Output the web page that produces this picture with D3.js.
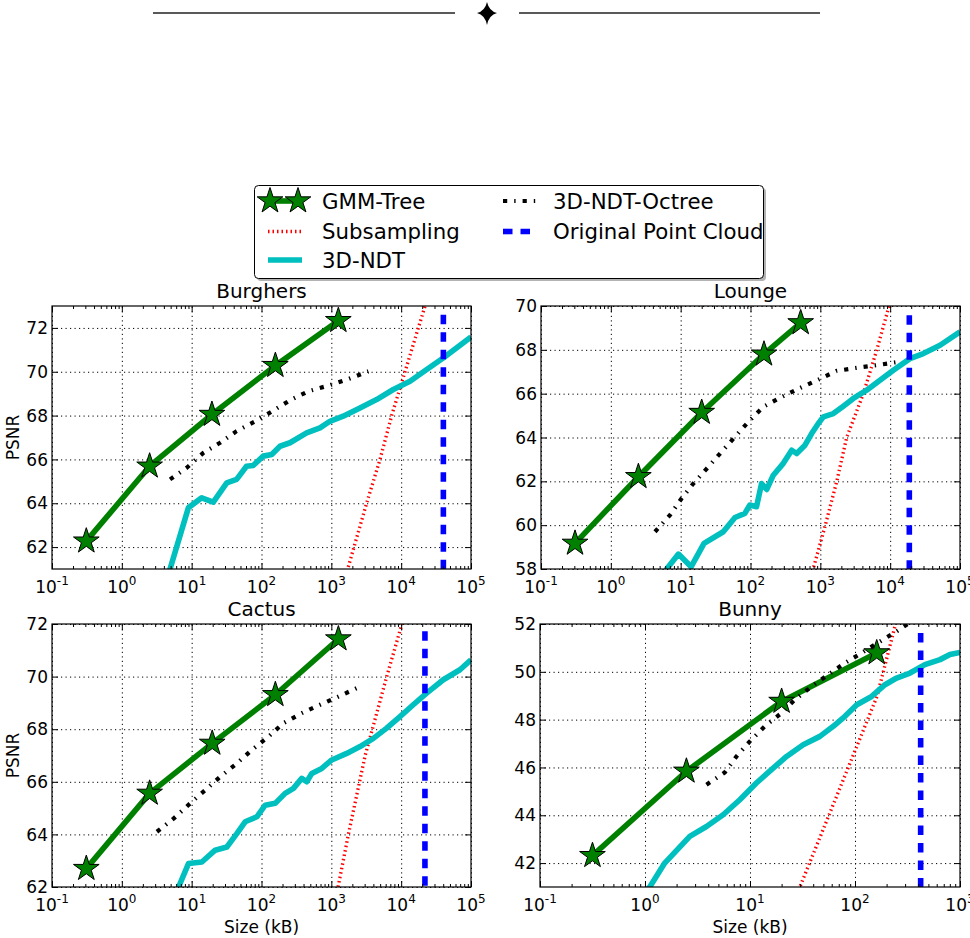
<!DOCTYPE html>
<html>
<head>
<meta charset="utf-8">
<script src="https://cdn.jsdelivr.net/npm/d3@7"></script>
<style>
body { margin: 0; background: #fff; }
text { font-family: "DejaVu Sans", sans-serif; }
</style>
</head>
<body>
<svg id="chart" width="970" height="938"></svg>
<script>
// ---- data (size in kB, PSNR) ----
var datasets = ["Burghers", "Lounge", "Cactus", "Bunny"];
var seriesNames = ["GMM-Tree", "Subsampling", "3D-NDT", "3D-NDT-Octree", "Original Point Cloud"];

var burghersGmm = [[0.31,62.27],[2.5,65.69],[19.5,68.05],[158,70.28],[1260,72.33]];
var burghersSub = [[1600,60.7],[1750,61.1],[3200,64],[4980,66],[7310,68],[11350,70],[17600,72],[22000,73],[24000,73.4]];
var burghersNdt = [[4.6,60.6],[4.9,61],[8.96,63.79],[13.9,64.25],[20.4,64.05],[31.8,64.93],[44,65.09],[61,65.69],[76,65.72],[106,66.15],[140,66.22],[184,66.6],[256,66.76],[443,67.21],[688,67.44],[955,67.74],[1480,67.97],[2570,68.35],[4450,68.73],[7720,69.19],[13400,69.57],[23200,70.1],[40000,70.63],[100000,71.59]];
var burghersOct = [[4.9,65.09],[8.5,65.62],[14.7,66.3],[25.5,66.76],[44,67.29],[81,67.74],[148,68.23],[256,68.7],[470,69.11],[910,69.37],[1750,69.67],[3390,70.02]];
var burghersOrig = [[40200,72.6],[40200,61]];

var loungeGmm = [[0.307,59.17],[2.48,62.21],[20,65.14],[156,67.8],[523,69.23]];
var loungeSub = [[715,57.5],[794,58.03],[1167,59.95],[1714,61.98],[2383,64],[4130,66],[6410,67.98],[9420,69.88],[10300,70.3]];
var loungeNdt = [[5.6,57.5],[6.3,58],[9.3,58.68],[14.1,58.1],[21.6,59.17],[40.8,59.7],[60,60.35],[83,60.54],[98,60.92],[122,60.84],[144,61.9],[171,61.63],[212,62.28],[295,62.82],[389,63.42],[458,63.27],[603,63.65],[751,64.18],[936,64.64],[1104,64.94],[1535,65.09],[2134,65.43],[2970,65.78],[4606,66.16],[7150,66.61],[11100,67.07],[19200,67.6],[29850,67.83],[51800,68.21],[100000,68.82]];
var loungeOct = [[4.29,59.7],[7.03,60.46],[10.3,61.22],[15.2,61.9],[24.9,62.66],[38.6,63.35],[60,64.03],[93,64.71],[153,65.4],[279,65.85],[512,66.26],[936,66.64],[1714,67.04],[3311,67.18],[6412,67.3],[13100,67.45]];
var loungeOrig = [[18800,69.58],[18800,58]];

var cactusGmm = [[0.31,62.7],[2.5,65.56],[19.7,67.46],[158,69.31],[1262,71.43]];
var cactusSub = [[1150,61.5],[1262,62.06],[1754,64],[3050,67],[6210,70],[10170,71.97],[11000,72.4]];
var cactusNdt = [[6.2,61.6],[6.5,62],[9,62.89],[14,62.95],[21.7,63.4],[31.9,63.52],[44.3,64.03],[58.3,64.48],[85.7,64.67],[113,65.11],[157,65.18],[218,65.56],[287,65.75],[377,66.13],[445,66],[525,66.32],[729,66.51],[1014,66.83],[1660,67.08],[2578,67.34],[4000,67.65],[6200,68.04],[9620,68.48],[14900,68.93],[23200,69.37],[40100,69.88],[69500,70.26],[100000,70.64]];
var cactusOct = [[3.18,64.1],[5.5,64.6],[9.5,65.18],[15.6,65.68],[25.6,66.19],[44.3,66.7],[72.6,67.21],[126,67.72],[206,68.23],[377,68.61],[690,68.93],[1262,69.24],[2307,69.56]];
var cactusOrig = [[21900,71.72],[21900,62]];

var bunnyGmm = [[0.316,42.31],[2.48,45.84],[20,48.76],[161,50.79]];
var bunnySub = [[28,40.7],[30.3,41.07],[162,48.97],[240,51.9],[255,52.3]];
var bunnyNdt = [[1.0,40.8],[1.11,41],[1.54,42],[2.67,43.12],[3.85,43.53],[5.55,44.02],[8,44.65],[11.5,45.35],[16,45.91],[22.3,46.46],[32.1,46.95],[46.3,47.3],[62.1,47.72],[80.2,48.14],[104,48.62],[144,48.97],[193,49.46],[249,49.74],[334,49.95],[463,50.3],[645,50.51],[803,50.72],[1000,50.81]];
var bunnyOct = [[3.85,45.28],[5.75,45.79],[7.43,46.46],[9.96,47.09],[13.8,47.72],[20,48.28],[26.7,48.83],[38.6,49.39],[55.6,49.88],[80.2,50.37],[116,50.79],[173,51.27],[249,51.69],[330,52.05]];
var bunnyOrig = [[422,51.62],[422,41]];

var yTicksBurghers = [62, 64, 66, 68, 70, 72];
var yTicksLounge = [58, 60, 62, 64, 66, 68, 70];
var yTicksCactus = [62, 64, 66, 68, 70, 72];
var yTicksBunny = [42, 44, 46, 48, 50, 52];

var xLabel = "Size (kB)";
var yLabel = "PSNR";

// ---- styles ----
var styles = [
	{ color: "#008000", width: 5.6, dash: null },          // GMM-Tree
	{ color: "#ff0000", width: 3.4, dash: "1.5,3" },       // Subsampling
	{ color: "#00bfbf", width: 5.6, dash: null },          // 3D-NDT
	{ color: "#000000", width: 4.2, dash: "4.2,7,1.4,7" }, // Octree
	{ color: "#0000ff", width: 5.6, dash: "9.5,8" }        // Original
];

var panels = [
	{ name: datasets[0], left: 52, right: 471, top: 306, bottom: 569, xDomain: [0.1, 1e5], yDomain: [61, 73], yTicks: yTicksBurghers, ylab: true, xlab: false,
	  series: [burghersGmm, burghersSub, burghersNdt, burghersOct, burghersOrig] },
	{ name: datasets[1], left: 541, right: 960, top: 306, bottom: 569, xDomain: [0.1, 1e5], yDomain: [58, 70], yTicks: yTicksLounge, ylab: false, xlab: false,
	  series: [loungeGmm, loungeSub, loungeNdt, loungeOct, loungeOrig] },
	{ name: datasets[2], left: 52, right: 471, top: 624, bottom: 887, xDomain: [0.1, 1e5], yDomain: [62, 72], yTicks: yTicksCactus, ylab: true, xlab: true,
	  series: [cactusGmm, cactusSub, cactusNdt, cactusOct, cactusOrig] },
	{ name: datasets[3], left: 540, right: 960, top: 624, bottom: 887, xDomain: [0.1, 1e3], yDomain: [41, 52], yTicks: yTicksBunny, ylab: false, xlab: true,
	  series: [bunnyGmm, bunnySub, bunnyNdt, bunnyOct, bunnyOrig] }
];

var svg = d3.select("#chart");

function starPath(cx, cy, R) {
	var r = R * 0.381966, pts = [];
	for (var i = 0; i < 10; i++) {
		var a = -Math.PI / 2 + i * Math.PI / 5;
		var rr = (i % 2 == 0) ? R : r;
		pts.push([cx + rr * Math.cos(a), cy + rr * Math.sin(a)]);
	}
	return "M" + pts.map(function(p){ return p[0].toFixed(2) + "," + p[1].toFixed(2); }).join("L") + "Z";
}

function styleLine(sel, st) {
	sel.attr("fill", "none")
		.attr("stroke", st.color)
		.attr("stroke-width", st.width)
		.attr("stroke-linejoin", "round");
	if (st.dash) sel.attr("stroke-dasharray", st.dash);
}

function drawPanel(p, idx) {
	var W = p.right - p.left, H = p.bottom - p.top;
	var x = d3.scaleLog().domain(p.xDomain).range([p.left, p.right]);
	var y = d3.scaleLinear().domain(p.yDomain).range([p.bottom, p.top]);

	var e0 = Math.round(Math.log10(p.xDomain[0])), e1 = Math.round(Math.log10(p.xDomain[1]));
	var majors = d3.range(e0, e1 + 1).map(function(e){ return Math.pow(10, e); });
	var minors = [];
	d3.range(e0, e1).forEach(function(e){
		for (var k = 2; k < 10; k++) minors.push(k * Math.pow(10, e));
	});

	var g = svg.append("g");

	// grid
	var gx = g.append("g").attr("transform", "translate(0," + p.bottom + ")")
		.call(d3.axisBottom(x).tickValues(majors).tickSize(-H).tickSizeOuter(0).tickFormat(""));
	var gy = g.append("g").attr("transform", "translate(" + p.left + ",0)")
		.call(d3.axisLeft(y).tickValues(p.yTicks).tickSize(-W).tickSizeOuter(0).tickFormat(""));
	[gx, gy].forEach(function(s){
		s.select(".domain").remove();
		s.selectAll("line").attr("stroke", "#000").attr("stroke-width", 1).attr("stroke-dasharray", "1.2,3.3");
	});

	// clip
	var clipId = "clip" + idx;
	svg.append("clipPath").attr("id", clipId).append("rect")
		.attr("x", p.left).attr("y", p.top).attr("width", W).attr("height", H);

	var line = d3.line().x(function(d){ return x(d[0]); }).y(function(d){ return y(d[1]); });
	var plot = g.append("g").attr("clip-path", "url(#" + clipId + ")");

	[0, 1, 2, 3, 4].forEach(function(k){
		plot.append("path").datum(p.series[k]).attr("d", line).call(styleLine, styles[k]);
	});
	// stars for GMM-Tree
	plot.selectAll(".star").data(p.series[0]).enter().append("path")
		.attr("d", function(d){ return starPath(x(d[0]), y(d[1]), 13.5); })
		.attr("fill", styles[0].color).attr("stroke", "#000").attr("stroke-width", 1);

	// ticks, all four sides, pointing inward
	function ticks(axis, tr, vals, size) {
		var s = g.append("g").attr("transform", tr).call(axis.tickValues(vals).tickSize(size).tickSizeOuter(0).tickFormat(""));
		s.select(".domain").remove();
		s.selectAll("line").attr("stroke", "#000").attr("stroke-width", 1);
	}
	ticks(d3.axisBottom(x), "translate(0," + p.bottom + ")", majors, -6);
	ticks(d3.axisBottom(x), "translate(0," + p.bottom + ")", minors, -3);
	ticks(d3.axisTop(x), "translate(0," + p.top + ")", majors, -6);
	ticks(d3.axisTop(x), "translate(0," + p.top + ")", minors, -3);
	ticks(d3.axisLeft(y), "translate(" + p.left + ",0)", p.yTicks, -6);
	ticks(d3.axisRight(y), "translate(" + p.right + ",0)", p.yTicks, -6);

	// frame
	g.append("rect").attr("x", p.left).attr("y", p.top).attr("width", W).attr("height", H)
		.attr("fill", "none").attr("stroke", "#000").attr("stroke-width", 1.2);

	// x tick labels 10^n
	var xl = g.selectAll(".xl").data(majors).enter().append("text")
		.attr("x", function(d){ return x(d); })
		.attr("y", p.bottom + 24)
		.attr("text-anchor", "middle")
		.attr("font-size", 17);
	xl.append("tspan").text("10");
	xl.append("tspan").attr("font-size", 12).attr("dy", -8)
		.text(function(d){ var e = Math.round(Math.log10(d)); return e < 0 ? "-" + (-e) : String(e); });

	// y tick labels
	g.selectAll(".yl").data(p.yTicks).enter().append("text")
		.attr("x", p.left - 4)
		.attr("y", function(d){ return y(d); })
		.attr("dy", "0.36em")
		.attr("text-anchor", "end")
		.attr("font-size", 17)
		.text(function(d){ return d; });

	// title
	g.append("text").attr("x", (p.left + p.right) / 2).attr("y", p.top - 8)
		.attr("text-anchor", "middle").attr("font-size", 20).text(p.name);

	if (p.ylab) {
		g.append("text").attr("transform", "translate(19," + ((p.top + p.bottom) / 2) + ") rotate(-90)")
			.attr("text-anchor", "middle").attr("font-size", 17).text(yLabel);
	}
	if (p.xlab) {
		g.append("text").attr("x", (p.left + p.right) / 2).attr("y", p.bottom + 46)
			.attr("text-anchor", "middle").attr("font-size", 17).text(xLabel);
	}
}

panels.forEach(drawPanel);

// ---- legend ----
var leg = svg.append("g");
leg.append("rect").attr("x", 257).attr("y", 188).attr("width", 509).attr("height", 93).attr("rx", 4)
	.attr("fill", "#b3b3b3");
leg.append("rect").attr("x", 254.5).attr("y", 185.5).attr("width", 509).attr("height", 93).attr("rx", 4)
	.attr("fill", "#fff").attr("stroke", "#000").attr("stroke-width", 1);

var legendPos = [
	{ hx: 268, tx: 322, y: 201 },
	{ hx: 268, tx: 322, y: 231.5 },
	{ hx: 268, tx: 322, y: 260 },
	{ hx: 503, tx: 553, y: 201 },
	{ hx: 503, tx: 553, y: 231.5 }
];
seriesNames.forEach(function(name, k){
	var lp = legendPos[k];
	var len = (k == 0) ? 30 : 34;
	var x0 = (k == 0) ? 270 : lp.hx;
	leg.append("path").attr("d", "M" + x0 + "," + lp.y + "L" + (x0 + len) + "," + lp.y).call(styleLine, styles[k]);
	if (k == 0) {
		[270, 298].forEach(function(cx){
			leg.append("path").attr("d", starPath(cx, lp.y, 13.5))
				.attr("fill", styles[0].color).attr("stroke", "#000").attr("stroke-width", 1);
		});
	}
	leg.append("text").attr("x", lp.tx).attr("y", lp.y).attr("dy", "0.36em")
		.attr("font-size", 21.3).text(name);
});

// ---- ornament at top ----
var orn = svg.append("g");
orn.append("line").attr("x1", 153).attr("x2", 455).attr("y1", 13).attr("y2", 13).attr("stroke", "#222").attr("stroke-width", 1.5);
orn.append("line").attr("x1", 519).attr("x2", 820).attr("y1", 13).attr("y2", 13).attr("stroke", "#222").attr("stroke-width", 1.5);
orn.append("path")
	.attr("d", "M487,2 Q489,11 497,13 Q489,15 487,25 Q485,15 477,13 Q485,11 487,2 Z")
	.attr("fill", "#000");
</script>
</body>
</html>
